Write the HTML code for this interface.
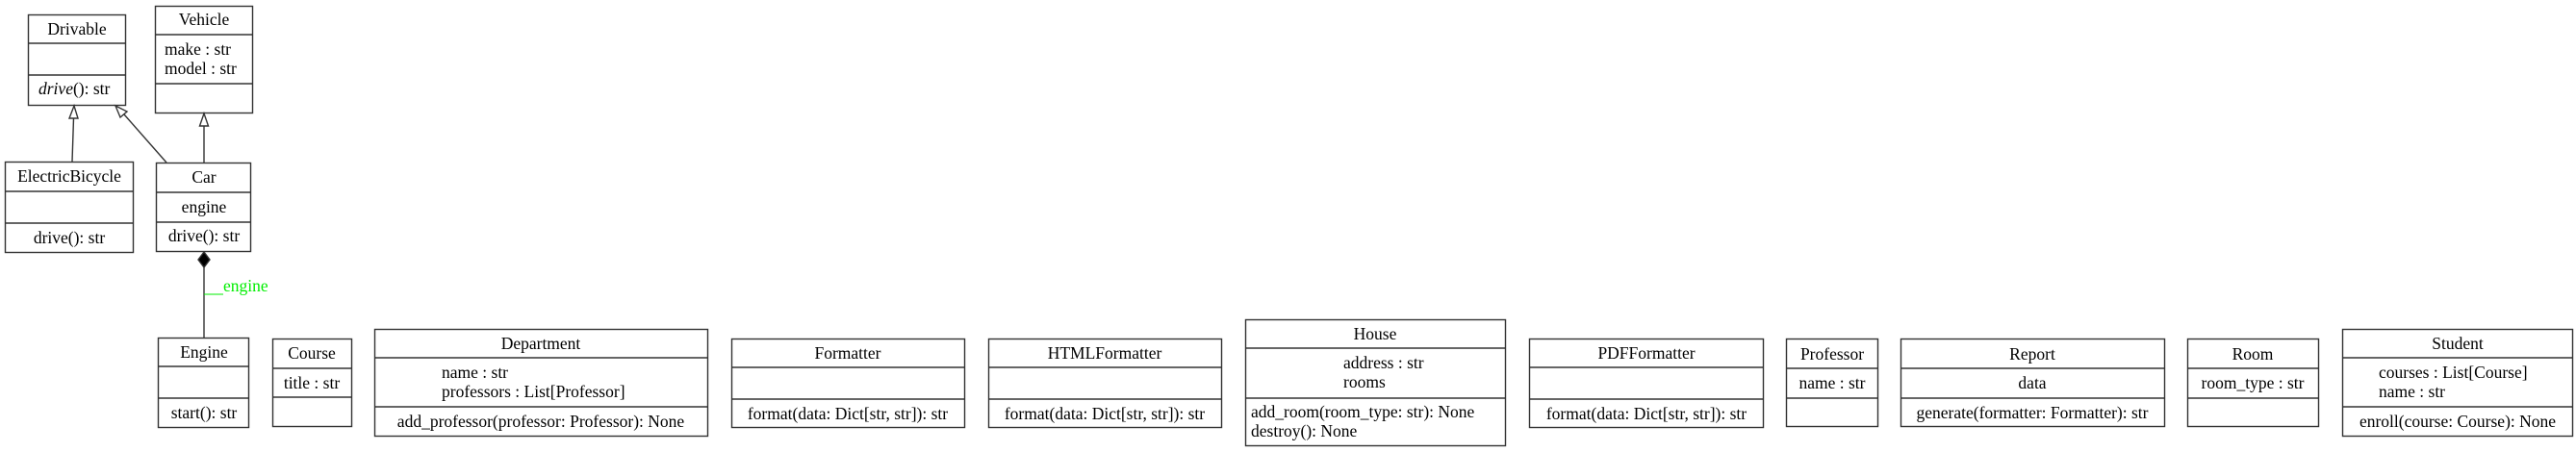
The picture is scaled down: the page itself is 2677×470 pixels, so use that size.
<!DOCTYPE html>
<html><head><meta charset="utf-8"><style>
html,body{margin:0;padding:0;background:#fff;}
svg{display:block;}
text{font-family:"Liberation Serif",serif;font-size:17.5px;fill:#000;}
</style></head><body>
<svg width="2677" height="470" viewBox="0 0 2677 470" xmlns="http://www.w3.org/2000/svg">
<g stroke="#333" stroke-width="1.4" fill="none">
<rect x="29.5" y="15.5" width="101" height="94"/><line x1="29" y1="45" x2="131" y2="45"/><line x1="29" y1="78" x2="131" y2="78"/>
<rect x="161.5" y="6.5" width="101" height="111"/><line x1="161" y1="36" x2="263" y2="36"/><line x1="161" y1="87" x2="263" y2="87"/>
<rect x="5.5" y="168.5" width="133" height="94"/><line x1="5" y1="199" x2="139" y2="199"/><line x1="5" y1="232" x2="139" y2="232"/>
<rect x="162.5" y="169.5" width="98" height="92"/><line x1="162" y1="200" x2="261" y2="200"/><line x1="162" y1="231" x2="261" y2="231"/>
<rect x="164.5" y="351.5" width="94" height="93"/><line x1="164" y1="381" x2="259" y2="381"/><line x1="164" y1="414" x2="259" y2="414"/>
<rect x="283.5" y="352.5" width="82" height="91"/><line x1="283" y1="383" x2="366" y2="383"/><line x1="283" y1="413" x2="366" y2="413"/>
<rect x="389.5" y="342.5" width="346" height="111"/><line x1="389" y1="372" x2="736" y2="372"/><line x1="389" y1="423" x2="736" y2="423"/>
<rect x="760.5" y="352.5" width="242" height="92"/><line x1="760" y1="382" x2="1003" y2="382"/><line x1="760" y1="415" x2="1003" y2="415"/>
<rect x="1027.5" y="352.5" width="242" height="92"/><line x1="1027" y1="382" x2="1270" y2="382"/><line x1="1027" y1="415" x2="1270" y2="415"/>
<rect x="1294.5" y="332.5" width="270" height="131"/><line x1="1294" y1="362" x2="1565" y2="362"/><line x1="1294" y1="414" x2="1565" y2="414"/>
<rect x="1589.5" y="352.5" width="243" height="92"/><line x1="1589" y1="382" x2="1833" y2="382"/><line x1="1589" y1="415" x2="1833" y2="415"/>
<rect x="1856.5" y="352.5" width="95" height="91"/><line x1="1856" y1="383" x2="1952" y2="383"/><line x1="1856" y1="414" x2="1952" y2="414"/>
<rect x="1975.5" y="352.5" width="274" height="91"/><line x1="1975" y1="383" x2="2250" y2="383"/><line x1="1975" y1="414" x2="2250" y2="414"/>
<rect x="2273.5" y="352.5" width="136" height="91"/><line x1="2273" y1="383" x2="2410" y2="383"/><line x1="2273" y1="414" x2="2410" y2="414"/>
<rect x="2434.5" y="342.5" width="239" height="111"/><line x1="2434" y1="372" x2="2674" y2="372"/><line x1="2434" y1="423" x2="2674" y2="423"/>

<line x1="75" y1="168" x2="76.5" y2="123"/>
<polygon points="72,123 81,123 77,110" fill="#fff"/>
<line x1="173" y1="169" x2="129" y2="119"/>
<polygon points="125,122 132,116 120,110" fill="#fff"/>
<line x1="212" y1="169" x2="212" y2="131"/>
<polygon points="207.5,131 216.5,131 212,118" fill="#fff"/>
<line x1="212" y1="278" x2="212" y2="351"/>
<polygon points="212,262 218,270 212,278 206,270" fill="#000"/>
<line x1="212" y1="306" x2="232" y2="306" stroke="#00ee00" stroke-width="1"/>
</g>
<text x="80" y="36" text-anchor="middle">Drivable</text>
<text x="40" y="98"><tspan font-style="italic">drive</tspan>(): str</text>
<text x="212" y="26" text-anchor="middle">Vehicle</text>
<text x="171" y="57">make : str</text>
<text x="171" y="77">model : str</text>
<text x="72" y="189" text-anchor="middle">ElectricBicycle</text>
<text x="72" y="253" text-anchor="middle">drive(): str</text>
<text x="212" y="190" text-anchor="middle">Car</text>
<text x="212" y="221" text-anchor="middle">engine</text>
<text x="212" y="251" text-anchor="middle">drive(): str</text>
<text x="232" y="303" style="fill:#00ee00">engine</text>
<text x="212" y="372" text-anchor="middle">Engine</text>
<text x="212" y="435" text-anchor="middle">start(): str</text>
<text x="324" y="373" text-anchor="middle">Course</text>
<text x="324" y="404" text-anchor="middle">title : str</text>
<text x="562" y="363" text-anchor="middle">Department</text>
<text x="459" y="393">name : str</text>
<text x="459" y="413">professors : List[Professor]</text>
<text x="562" y="444" text-anchor="middle">add_professor(professor: Professor): None</text>
<text x="881" y="373" text-anchor="middle">Formatter</text>
<text x="881" y="436" text-anchor="middle">format(data: Dict[str, str]): str</text>
<text x="1148" y="373" text-anchor="middle">HTMLFormatter</text>
<text x="1148" y="436" text-anchor="middle">format(data: Dict[str, str]): str</text>
<text x="1429" y="353" text-anchor="middle">House</text>
<text x="1396" y="383">address : str</text>
<text x="1396" y="403">rooms</text>
<text x="1300" y="434">add_room(room_type: str): None</text>
<text x="1300" y="454">destroy(): None</text>
<text x="1711" y="373" text-anchor="middle">PDFFormatter</text>
<text x="1711" y="436" text-anchor="middle">format(data: Dict[str, str]): str</text>
<text x="1904" y="374" text-anchor="middle">Professor</text>
<text x="1904" y="404" text-anchor="middle">name : str</text>
<text x="2112" y="374" text-anchor="middle">Report</text>
<text x="2112" y="404" text-anchor="middle">data</text>
<text x="2112" y="435" text-anchor="middle">generate(formatter: Formatter): str</text>
<text x="2341" y="374" text-anchor="middle">Room</text>
<text x="2341" y="404" text-anchor="middle">room_type : str</text>
<text x="2554" y="363" text-anchor="middle">Student</text>
<text x="2472" y="393">courses : List[Course]</text>
<text x="2472" y="413">name : str</text>
<text x="2554" y="444" text-anchor="middle">enroll(course: Course): None</text>
</svg>
</body></html>
